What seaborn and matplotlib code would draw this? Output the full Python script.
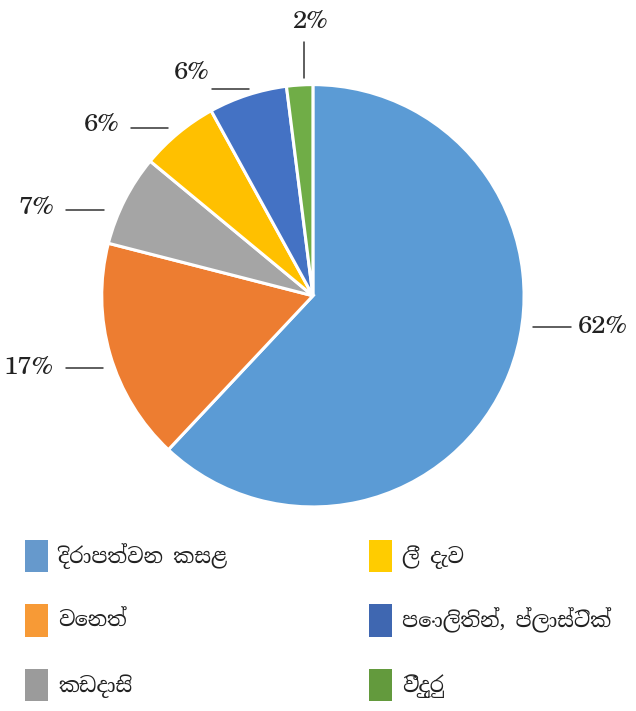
import matplotlib
matplotlib.use("Agg")
import matplotlib.pyplot as plt
import seaborn as sns
from matplotlib.patches import Patch

sns.set_theme(style="white")
plt.rcParams['font.family'] = ['Noto Serif Sinhala', 'DejaVu Sans']

# ---- data ----
categories = ["දිරාපත්වන කසළ", "වෙනත්", "කඩදාසි", "ලී දැව", "පොලිතින්, ප්ලාස්ටික්", "වීදුරු"]
values = [62, 17, 7, 6, 6, 2]
pct_labels = ["62%", "17%", "7%", "6%", "6%", "2%"]
pie_colors = ["#5B9BD5", "#ED7D31", "#A5A5A5", "#FFC000", "#4472C4", "#70AD47"]
legend_colors = ["#6699CC", "#F79A36", "#9B9B9B", "#FFCC00", "#3F67B1", "#639A3D"]

# ---- layout (label placement, data coords of a unit pie) ----
# (text x, text y, ha, line x0, line y0, line x1, line y1)
label_layout = [
    (1.256, -0.147, "left", 1.043, -0.147, 1.223, -0.147),
    (-1.227, -0.341, "right", -1.171, -0.341, -0.995, -0.341),
    (-1.223, 0.417, "right", -1.171, 0.408, -0.991, 0.408),
    (-0.915, 0.810, "right", -0.863, 0.796, -0.687, 0.796),
    (-0.488, 1.057, "right", -0.479, 0.981, -0.303, 0.981),
    (-0.014, 1.300, "center", -0.043, 1.204, -0.043, 1.033),
]

fig = plt.figure(figsize=(6.36, 7.11), dpi=100)
ax = fig.add_axes([0.160, 0.287, 0.664, 0.594])
ax.pie(values, colors=pie_colors, startangle=90, counterclock=False,
       wedgeprops=dict(edgecolor="white", linewidth=2.2))
ax.set_xlim(-1, 1)
ax.set_ylim(-1, 1)
ax.set_aspect("equal")
ax.axis("off")

for lab, (tx, ty, ha, x0, y0, x1, y1) in zip(pct_labels, label_layout):
    ax.text(tx, ty, lab, ha=ha, va="center", fontsize=18.5,
            family=["TeX Gyre Schola", "DejaVu Serif"], color="#222222")
    ax.plot([x0, x1], [y0, y1], color="#333333", lw=1.1, clip_on=False)

fs = 15
handles = [Patch(facecolor=c, edgecolor="none") for c in legend_colors]
common = dict(frameon=False, fontsize=fs, handlelength=1.1, handleheight=2.0,
              handletextpad=0.5, labelspacing=1.55, borderpad=0, borderaxespad=0,
              loc="upper left")
leg1 = fig.legend(handles[:3], categories[:3],
                  bbox_to_anchor=(25 / 636, (711 - 540) / 711), **common)
leg2 = fig.legend(handles[3:], categories[3:],
                  bbox_to_anchor=(369 / 636, (711 - 540) / 711), **common)
for leg in (leg1, leg2):
    for t in leg.get_texts():
        t.set_color("#222222")

fig.savefig("out.png", dpi=100)
